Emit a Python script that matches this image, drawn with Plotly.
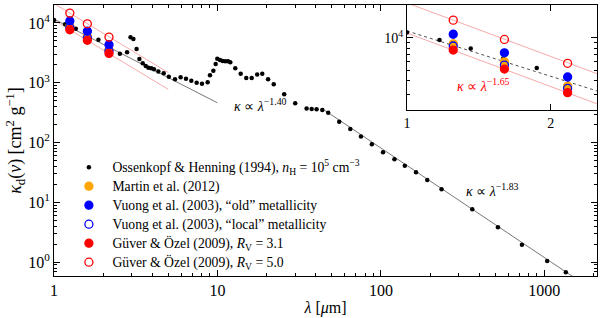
import plotly.graph_objects as go

# Ossenkopf & Henning (1994) opacities (wavelength in micron, kappa in cm^2/g)
lam_oh = [1.0, 1.17, 1.36, 1.59, 1.87, 2.53, 2.80, 2.94, 3.06, 3.2, 3.33, 3.49, 3.64,
          3.78, 3.94, 4.09, 4.35, 4.69, 5.04, 5.5, 5.95, 6.42, 6.92, 7.46, 8.04, 8.71,
          9.0, 9.44, 9.75, 9.98, 10.36, 10.75, 11.16, 11.6, 11.98, 12.85, 13.87, 15.0,
          16.2, 17.5, 18.8, 20.4, 22.1, 25.6, 29.9, 35.1, 37.7, 40.4, 43.8, 47.6, 55.6,
          65.0, 75.5, 88.0, 103, 121, 140, 164, 192, 235, 362, 520, 729, 1040, 1353]
kap_oh = [11200, 9550, 7980, 6440, 5250, 3050, 3250, 5780, 5400, 3670, 2500, 2120, 1910,
          1790, 1750, 1680, 1540, 1440, 1265, 1140, 1240, 1170, 1080, 1000, 967, 1020,
          1330, 1590, 2060, 2530, 2400, 2320, 2290, 2290, 2200, 1750, 1420, 1200,
          1200, 1370, 1420, 1140, 944, 643, 454, 372, 365, 360, 351, 316, 224,
          169, 126, 94, 69, 52.5, 41, 31.9, 23.7, 16.6, 7.66, 3.84, 1.96, 1.05, 0.68]

# NIR bands (J, H, K)
lam_nir = [1.25, 1.6, 2.17]
kap_martin = [8800, 5990, 3570]
kap_vuong_old = [10800, 7260, 4330]
kap_vuong_local = [8400, 5590, 3400]
kap_guver31 = [7700, 5130, 3100]
kap_guver50 = [14600, 9670, 5800]

# power-law guide lines (end points)
fit140_x = [1, 10]
fit140_y = [11600, 462]
fit183_x = [45, 2000]
fit183_y = [350, 0.337]
fit165hi_x = [1, 5]
fit165hi_y = [21100, 1480]
fit165lo_x = [1, 5]
fit165lo_y = [11100, 776]

SERIF = "Liberation Serif, Times New Roman, serif"
BLACK = "black"
ORANGE = "#ffa500"
BLUE = "#0000ff"
RED = "#ff0000"

def big(s):
    return '<span style="font-size:13.7px">' + s + '</span>'

fig = go.Figure()

def add_lines(xa, ya):
    fig.add_trace(go.Scatter(x=fit140_x, y=fit140_y, mode="lines", xaxis=xa, yaxis=ya,
                             line=dict(color="#555" if xa == "x" else "#222", width=0.8,
                                       dash="solid" if xa == "x" else "dot"),
                             showlegend=False, hoverinfo="skip"))
    for fx, fy in [(fit165hi_x, fit165hi_y), (fit165lo_x, fit165lo_y)]:
        fig.add_trace(go.Scatter(x=fx, y=fy, mode="lines", xaxis=xa, yaxis=ya,
                                 line=dict(color="rgba(240,90,90,0.75)", width=0.7),
                                 showlegend=False, hoverinfo="skip"))
    if xa == "x":
        fig.add_trace(go.Scatter(x=fit183_x, y=fit183_y, mode="lines", xaxis=xa, yaxis=ya,
                                 line=dict(color="#555", width=0.8),
                                 showlegend=False, hoverinfo="skip"))

def add_points(xa, ya, legend):
    fig.add_trace(go.Scatter(x=lam_oh, y=kap_oh, mode="markers", xaxis=xa, yaxis=ya,
                             marker=dict(color=BLACK, size=4.5),
                             name=big("Ossenkopf & Henning (1994), <i>n</i><sub>H</sub> = 10<sup>5</sup> cm<sup>−3</sup>"),
                             showlegend=legend))
    specs = [
        (kap_martin, "circle", ORANGE, "Martin et al. (2012)"),
        (kap_vuong_old, "circle", BLUE, "Vuong et al. (2003), “old” metallicity"),
        (kap_vuong_local, "circle-open", BLUE, "Vuong et al. (2003), “local” metallicity"),
        (kap_guver31, "circle", RED, "Güver & Özel (2009), <i>R</i><sub>V</sub> = 3.1"),
        (kap_guver50, "circle-open", RED, "Güver & Özel (2009), <i>R</i><sub>V</sub> = 5.0"),
    ]
    for ys, sym, col, nm in specs:
        fig.add_trace(go.Scatter(x=lam_nir, y=ys, mode="markers", xaxis=xa, yaxis=ya,
                                 marker=dict(symbol=sym, color=col, size=8,
                                             line=dict(color=col, width=1.3)),
                                 name=big(nm), showlegend=legend))

add_lines("x", "y")
add_points("x", "y", True)
add_lines("x2", "y2")
add_points("x2", "y2", False)

def minor_vals(decades):
    return [m * 10 ** d for d in decades for m in range(2, 10)]

axis_common = dict(showline=True, linecolor="black", linewidth=1, mirror="allticks",
                   ticks="inside", tickcolor="black", showgrid=False, zeroline=False)

fig.update_layout(
    width=600, height=318,
    margin=dict(l=54, r=3, t=5, b=42),
    paper_bgcolor="white", plot_bgcolor="white",
    font=dict(family=SERIF, size=13, color="black"),
    xaxis=dict(type="log", range=[0, 3.322], domain=[0, 1], ticklen=6,
               tickvals=[1, 10, 100, 1000], ticktext=["1", "10", "100", "1000"],
               tickfont=dict(family=SERIF, size=16, color="black"),
               minor=dict(tickvals=minor_vals([0, 1, 2, 3]), ticks="inside", ticklen=3,
                          tickcolor="black", showgrid=False),
               title=dict(text="<i>λ</i> [<i>μ</i>m]", font=dict(family=SERIF, size=16), standoff=3),
               **axis_common),
    yaxis=dict(type="log", range=[-0.23, 4.30], domain=[0, 1], ticklen=6,
               tickvals=[1, 10, 100, 1000, 10000],
               ticktext=["10<sup>0</sup>", "10<sup>1</sup>", "10<sup>2</sup>", "10<sup>3</sup>", "10<sup>4</sup>"],
               tickfont=dict(family=SERIF, size=16, color="black"),
               minor=dict(tickvals=minor_vals([-1, 0, 1, 2, 3, 4]), ticks="inside", ticklen=3,
                          tickcolor="black", showgrid=False),
               title=dict(text="<i>κ</i><sub>d</sub>(<i>ν</i>) [cm<sup>2</sup> g<sup>−1</sup>]",
                          font=dict(family=SERIF, size=18), standoff=0),
               **axis_common),
    xaxis2=dict(type="log", range=[0, 0.398], domain=[0.65, 1.0], anchor="y2", ticklen=6,
                tickvals=[1, 2], ticktext=["1", "2"],
                tickfont=dict(family=SERIF, size=14, color="black"),
                **axis_common),
    yaxis2=dict(type="log", range=[3.33, 4.305], domain=[0.6125, 1.0], anchor="x2", ticklen=6,
                tickvals=[10000], ticktext=["10<sup>4</sup>"],
                tickfont=dict(family=SERIF, size=14, color="black"),
                minor=dict(tickvals=minor_vals([3]), ticks="inside", ticklen=3,
                           tickcolor="black", showgrid=False),
                **axis_common),
    legend=dict(x=0.021, y=0.455, xanchor="left", yanchor="top",
                bgcolor="rgba(0,0,0,0)", font=dict(family=SERIF, size=12),
                tracegroupgap=0, itemsizing="trace", itemwidth=37),
    showlegend=True,
)

fig.add_annotation(x=1.087, y=2.63, xref="x", yref="y", xanchor="left", yanchor="middle",
                   text="<i>κ</i> ∝ <i>λ</i><sup>−1.40</sup>", showarrow=False,
                   font=dict(family=SERIF, size=14, color="black"))
fig.add_annotation(x=2.51, y=1.207, xref="x", yref="y", xanchor="left", yanchor="middle",
                   text="<i>κ</i> ∝ <i>λ</i><sup>−1.83</sup>", showarrow=False,
                   font=dict(family=SERIF, size=14, color="black"))
fig.add_annotation(x=0.1003, y=3.562, xref="x2", yref="y2", xanchor="left", yanchor="middle",
                   text="<i>κ</i> ∝ <i>λ</i><sup>−1.65</sup>", showarrow=False,
                   font=dict(family=SERIF, size=14, color=RED))

fig.write_html("out.html", config={"displayModeBar": False},
               post_script="document.body.style.margin='0px';document.body.style.overflow='hidden';")
